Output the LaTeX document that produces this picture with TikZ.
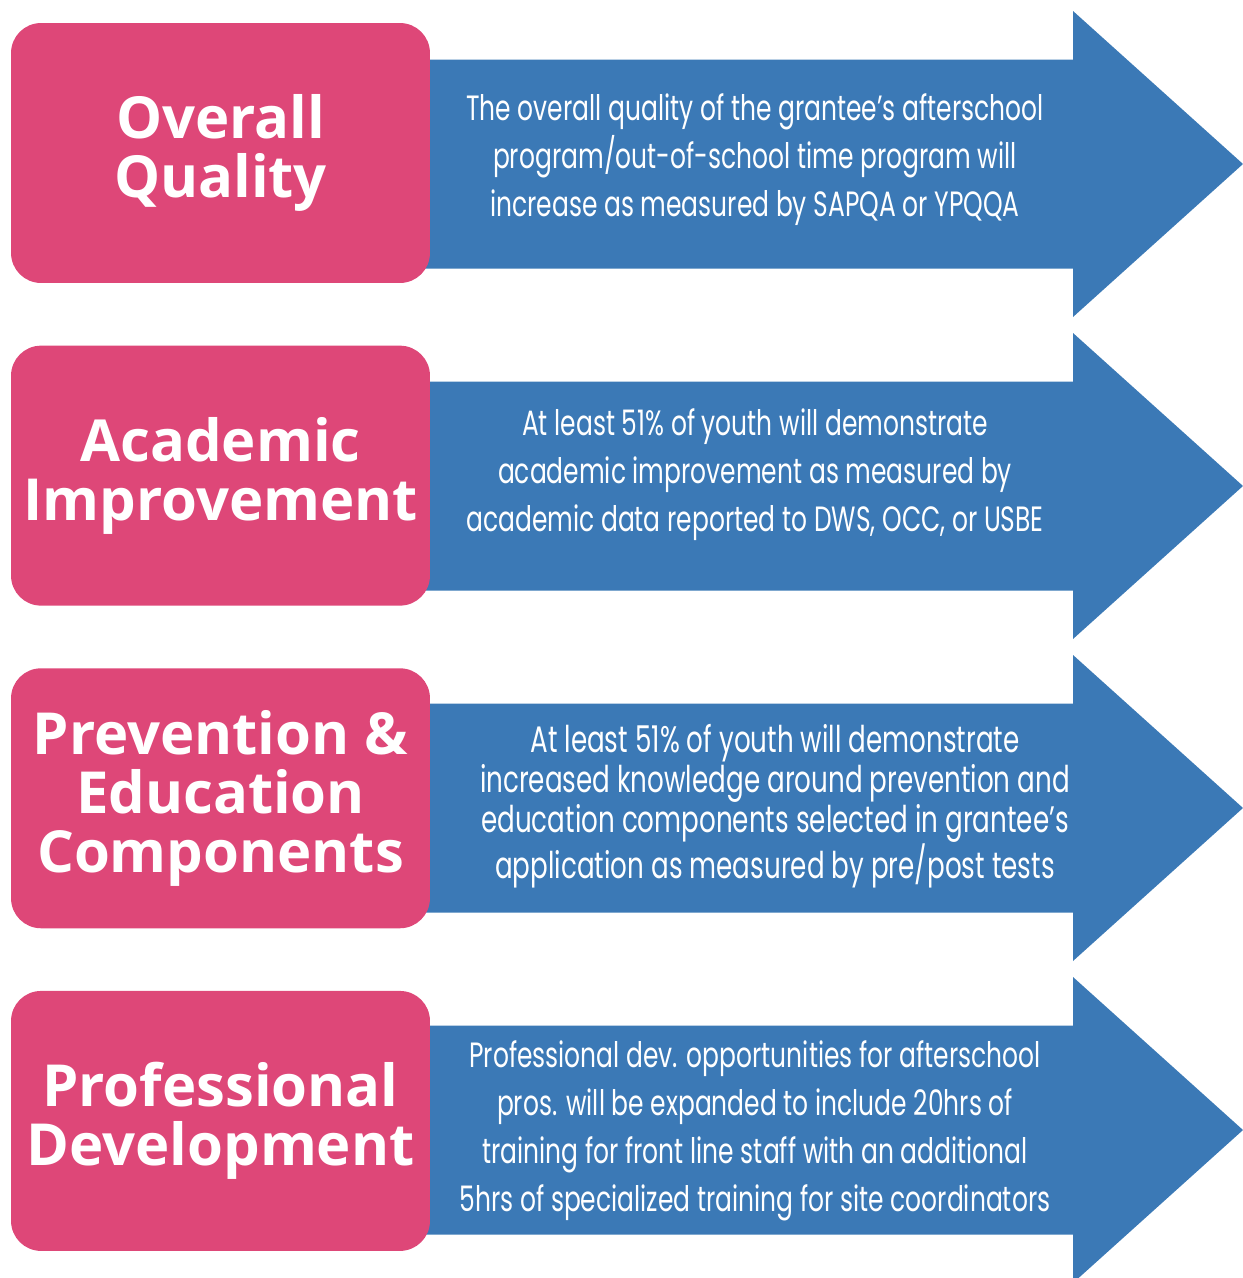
\documentclass[tikz,border=0pt]{standalone}
\usepackage{fontspec}
\setmainfont{Open Sans}
\newfontfamily\narrowfont[FakeStretch=0.71]{Poppins}
\usetikzlibrary{positioning}
\definecolor{areapink}{RGB}{222,71,120}
\definecolor{goalblue}{RGB}{59,121,182}

\begin{document}
\begin{tikzpicture}[
		x=0.02cm, y=-0.02cm,
		area/.style={fill=areapink, rounded corners=0.6cm, minimum width=8.38cm, minimum height=5.2cm, inner sep=0pt, align=center, text=white, font=\fontsize{33}{33.5}\selectfont\bfseries},
		goal/.style={align=center, text=white, font=\narrowfont\fontsize{20}{27.3}\selectfont},
		arrowbody/.style={fill=goalblue}
		]
		
		\useasboundingbox (0,0) rectangle (1243,1278);
		
		% ---- blue arrows behind the boxes ----
		\foreach \y in {164,486,808,1130}
		\fill[arrowbody] (415,\y-104.5) -- (1073,\y-104.5) -- (1073,\y-153) -- (1243,\y)
		-- (1073,\y+153) -- (1073,\y+104.5) -- (415,\y+104.5) -- cycle;
		
		\node[area] (quality) at (220.5,153) {Overall\\Quality};
		\node[area, below=1.24cm of quality] (academic) {Academic\\Improvement};
		\node[area, below=1.24cm of academic] (prevention) {Prevention \&\\Education\\Components};
		\node[area, below=1.24cm of prevention] (professional) {Professional\\Development};
		
		\node[goal] (qualitygoal) at (755,160) {The overall quality of the grantee’s afterschool\\program/out-of-school time program will\\increase as measured by SAPQA or YPQQA};
		\node[goal] (academicgoal) at (755,475) {At least 51\% of youth will demonstrate\\academic improvement as measured by\\academic data reported to DWS, OCC, or USBE};
		\node[goal, font=\narrowfont\fontsize{21}{22.8}\selectfont] (preventiongoal) at (775,806) {At least 51\% of youth will demonstrate\\increased knowledge around prevention and\\education components selected in grantee’s\\application as measured by pre/post tests};
		\node[goal] (professionalgoal) at (755,1131) {Professional dev. opportunities for afterschool\\pros. will be expanded to include 20hrs of\\training for front line staff with an additional\\5hrs of specialized training for site coordinators};
		
	\end{tikzpicture}
\end{document}
